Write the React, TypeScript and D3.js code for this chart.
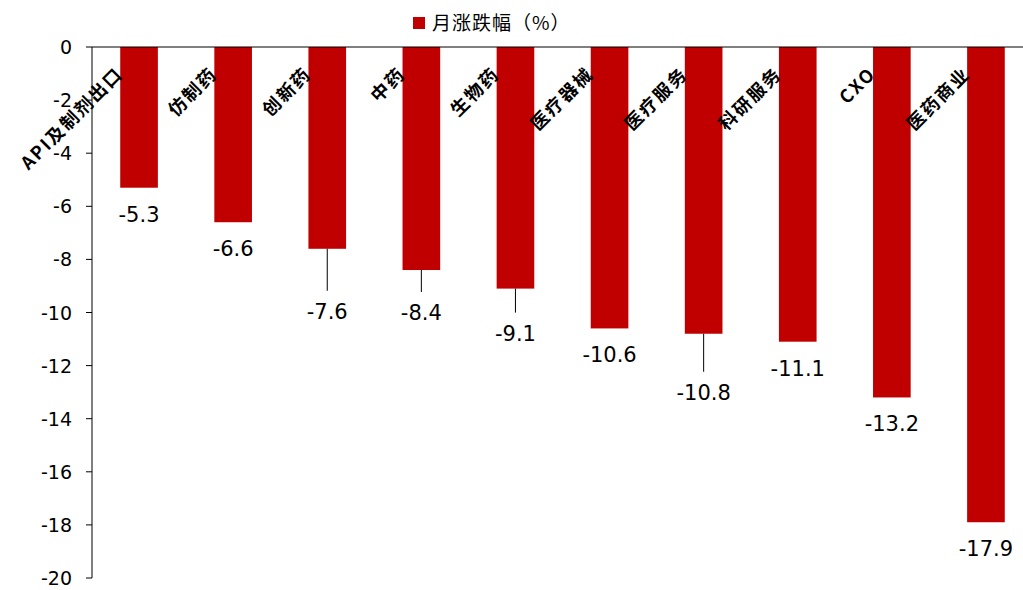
import React from "react";
import * as d3 from "d3";

const categories = ["API及制剂出口","仿制药","创新药","中药","生物药","医疗器械","医疗服务","科研服务","CXO","医药商业"];
const values = [-5.3,-6.6,-7.6,-8.4,-9.1,-10.6,-10.8,-11.1,-13.2,-17.9];
const labelGap = [26,26,62,42,44,26,58,26,26,26];
const yTicks = [0,-2,-4,-6,-8,-10,-12,-14,-16,-18,-20];

export default function App() {
  const W = 1023, H = 590;
  const x = d3.scaleBand().domain(categories).range([92, 1033]).paddingInner(0.6).paddingOuter(0.3);
  const y = d3.scaleLinear().domain([0, -20]).range([47, 578]);
  const font = "'Noto Sans CJK SC', 'DejaVu Sans', sans-serif";
  const red = "#C00000";
  return (
    <svg width={W} height={H} style={{ position: "absolute", left: 0, top: 0, fontFamily: font }}>
      <rect x={0} y={0} width={W} height={H} fill="#fff" />
      <rect x={413} y={17} width={12} height={12} fill={red} />
      <text x={432} y={30} fontSize={19} fill="#000" letterSpacing={1}>月涨跌幅（%）</text>
      {yTicks.map(t => (
        <g key={t}>
          <line x1={86} x2={92} y1={y(t)} y2={y(t)} stroke="#000" />
          <text x={72} y={y(t) + 7} textAnchor="end" fontSize={19} fontFamily="'DejaVu Sans', sans-serif">{t}</text>
        </g>
      ))}
      {categories.map((c, i) => {
        const bx = x(c)!;
        const bw = x.bandwidth();
        const by = y(values[i]);
        const cx = bx + bw / 2;
        const g = labelGap[i];
        return (
          <g key={c}>
            <rect x={bx} y={y(0)} width={bw} height={by - y(0)} fill={red} />
            {g > 30 && <line x1={cx} y1={by} x2={cx} y2={by + g - 20} stroke="#000" strokeWidth={1} />}
            <text x={cx} y={by + g + 8} textAnchor="middle" fontSize={21} fontFamily="'DejaVu Sans', sans-serif">{values[i]}</text>
            <text transform={`translate(${bx + 4},${y(0) + 28}) rotate(-45)`} textAnchor="end" fontSize={18} fontWeight="bold" letterSpacing={2}>{c}</text>
          </g>
        );
      })}
      <line x1={92} x2={1033} y1={y(0)} y2={y(0)} stroke="#000" />
      <line x1={92} x2={92} y1={y(0)} y2={y(-20)} stroke="#000" />
    </svg>
  );
}
